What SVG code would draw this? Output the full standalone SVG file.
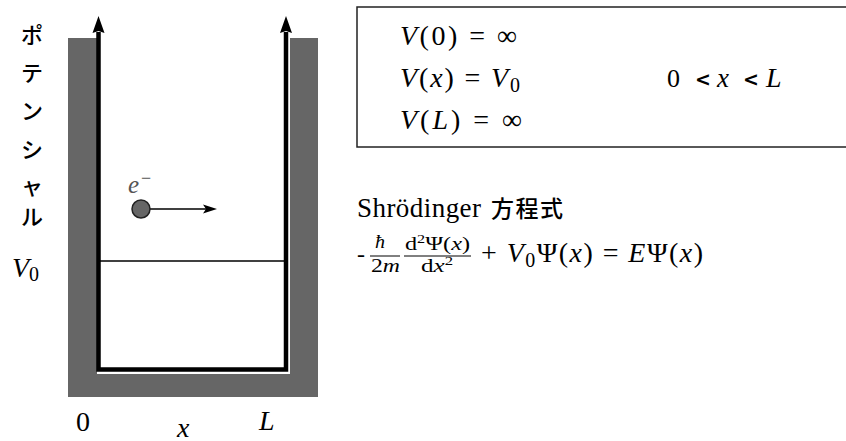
<svg xmlns="http://www.w3.org/2000/svg" width="846" height="441" viewBox="0 0 846 441">
<style>
.m{font-family:"Liberation Serif",serif;fill:#000}
.i{font-style:italic}
.jp{font-family:"Noto Sans CJK JP",sans-serif;fill:#000;font-weight:500}
.lt{font-family:"DejaVu Sans",sans-serif;font-size:19px;font-weight:bold}
.bar{stroke:#000;stroke-width:1}
</style>
<rect width="846" height="441" fill="#fff"/>
<g id="well">
<path d="M68,38 H97 V374 H290 V38 H318 V397 H68 Z" fill="#666"/>
</g>
<g id="connectors">
<path d="M98.5,32 V369.5 H286 V32" fill="none" stroke="#000" stroke-width="4.5"/>
<polygon points="98.5,16 104.5,33 98.5,31 92.5,33" fill="#000"/>
<polygon points="286,16 292,33 286,31 280,33" fill="#000"/>
<line x1="100" y1="261" x2="285" y2="261" stroke="#000" stroke-width="1.5"/>
<line x1="150" y1="209" x2="206" y2="209" stroke="#000" stroke-width="1.5"/>
<polygon points="217,209 203,204.5 206,209 203,213.5" fill="#000"/>
</g>
<g id="electron">
<circle cx="141" cy="209" r="9" fill="#666" stroke="#222" stroke-width="1.5"/>
<text class="m i" x="128" y="193" font-size="25" style="fill:#555">e</text>
<text class="m" x="141" y="184" font-size="18" style="fill:#555">−</text>
</g>
<g id="axis-label">
<text class="jp" x="32" y="43" font-size="22" text-anchor="middle">ポ</text>
<text class="jp" x="32" y="81" font-size="22" text-anchor="middle">テ</text>
<text class="jp" x="32" y="119" font-size="22" text-anchor="middle">ン</text>
<text class="jp" x="32" y="158" font-size="22" text-anchor="middle">シ</text>
<text class="jp" x="32" y="194" font-size="22" text-anchor="middle">ャ</text>
<text class="jp" x="32" y="225" font-size="22" text-anchor="middle">ル</text>
<text class="m" x="12" y="277" font-size="28"><tspan class="i">V</tspan><tspan font-size="20" dy="4">0</tspan></text>
<text class="m" x="76" y="431" font-size="28">0</text>
<text class="m i" x="259" y="430" font-size="28">L</text>
<text class="m i" x="177" y="437" font-size="28">x</text>
</g>
<g id="conditions">
<rect x="357" y="7" width="520" height="140" fill="none" stroke="#222" stroke-width="1.5"/>
<text class="m" x="400" y="45" font-size="28" textLength="117"><tspan class="i">V</tspan>(0) = ∞</text>
<text class="m" x="400" y="87" font-size="28" textLength="120"><tspan class="i">V</tspan>(<tspan class="i">x</tspan>) = <tspan class="i">V</tspan><tspan font-size="20" dy="5">0</tspan></text>
<text class="m" x="400" y="129" font-size="28" textLength="122"><tspan class="i">V</tspan>(<tspan class="i">L</tspan>) = ∞</text>
<text class="m" x="667" y="87" font-size="26">0</text>
<text class="lt" x="695" y="86">&lt;</text>
<text class="m i" x="717" y="87" font-size="27">x</text>
<text class="lt" x="743" y="86">&lt;</text>
<text class="m i" x="766" y="87" font-size="28">L</text>
</g>
<g id="schrodinger">
<text class="m" x="357" y="217" font-size="27" textLength="124">Shrödinger</text>
<text class="jp" x="491" y="217" font-size="23" textLength="72">方程式</text>
<text class="m" x="357" y="262" font-size="24">-</text>
<text class="m i" x="375" y="248" font-size="19" textLength="10" lengthAdjust="spacingAndGlyphs">ħ</text>
<line class="bar" x1="370" y1="256" x2="400" y2="256"/>
<text class="m" x="371" y="272" font-size="19" textLength="29" lengthAdjust="spacingAndGlyphs">2<tspan class="i">m</tspan></text>
<text class="m" x="405" y="250" font-size="18" textLength="65" lengthAdjust="spacingAndGlyphs">d<tspan font-size="12" dy="-7">2</tspan><tspan dy="7">Ψ(</tspan><tspan class="i">x</tspan>)</text>
<line class="bar" x1="404" y1="256" x2="471" y2="256"/>
<text class="m" x="421" y="272" font-size="18" textLength="32" lengthAdjust="spacingAndGlyphs">d<tspan class="i">x</tspan><tspan font-size="12" dy="-7">2</tspan></text>
<text class="m" x="481" y="262" font-size="28" textLength="222">+ <tspan class="i">V</tspan><tspan font-size="20" dy="5">0</tspan><tspan dy="-5">Ψ(</tspan><tspan class="i">x</tspan>) = <tspan class="i">E</tspan>Ψ(<tspan class="i">x</tspan>)</text>
</g>
</svg>
